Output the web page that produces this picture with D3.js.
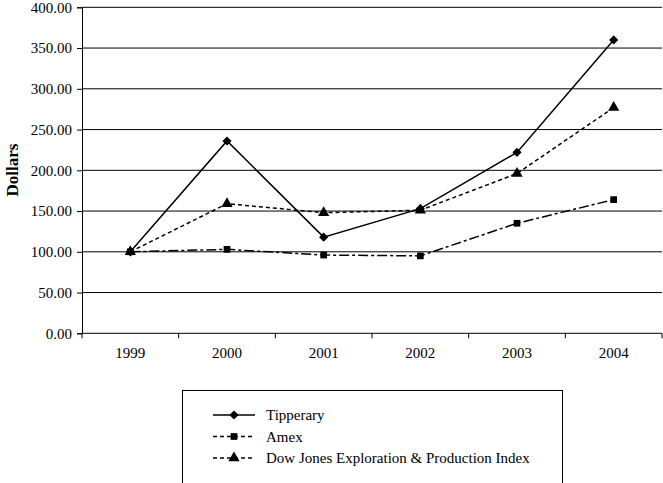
<!DOCTYPE html>
<html><head><meta charset="utf-8">
<script src="https://cdn.jsdelivr.net/npm/d3@7"></script>
<style>body{margin:0;background:#fff;}svg{display:block;}svg text{font-family:"Liberation Serif","Times New Roman",serif !important;fill:#000;}</style>
</head><body>
<svg id="c" width="663" height="483"></svg>
<script>
const years = ["1999","2000","2001","2002","2003","2004"];
const tipperary = [100, 236, 118, 153, 222, 360];
const amex = [100, 103, 96, 95, 135, 164];
const dowJones = [100, 159, 148, 151, 196, 277];
const yTicks = [0, 50, 100, 150, 200, 250, 300, 350, 400];
const seriesNames = ["Tipperary", "Amex", "Dow Jones Exploration & Production Index"];

const series = [
  {name: seriesNames[0], values: tipperary, dash: null, marker: d3.symbolSquare, size: 42, rot: 45},
  {name: seriesNames[1], values: amex, dash: "10,3,3,3", marker: d3.symbolSquare, size: 45, rot: 0},
  {name: seriesNames[2], values: dowJones, dash: "4,3", marker: d3.symbolTriangle, size: 55, rot: 0}
];

const svg = d3.select("#c");
const m = {l: 82, r: 662, t: 7.3, b: 333.3};
const x = d3.scaleBand().domain(years).range([m.l, m.r]);
const y = d3.scaleLinear().domain([0, 400]).range([m.b, m.t]);

// gridlines
svg.append("g").selectAll("line").data(yTicks.filter(d => d > 0)).join("line")
  .attr("x1", m.l).attr("x2", m.r).attr("y1", d => y(d)).attr("y2", d => y(d))
  .attr("stroke", "#000").attr("stroke-width", 1);

// y axis
const ya = svg.append("g").attr("transform", `translate(${m.l},0)`)
  .call(d3.axisLeft(y).tickValues(yTicks).tickFormat(d3.format(".2f")).tickSize(5).tickPadding(5));
ya.attr("font-family", null).attr("font-size", null);
ya.select(".domain").attr("stroke", "#000");
ya.selectAll("text").style("font-size", "15px");

// x axis
const xa = svg.append("g").attr("transform", `translate(0,${m.b})`);
xa.append("line").attr("x1", m.l).attr("x2", m.r).attr("stroke", "#000");
const edges = years.map(d => x(d)).concat([m.r]);
xa.selectAll("line.t").data(edges).join("line").attr("class", "t")
  .attr("x1", d => d).attr("x2", d => d).attr("y1", 0).attr("y2", 5).attr("stroke", "#000");
xa.selectAll("text").data(years).join("text")
  .attr("x", d => x(d) + x.bandwidth() / 2).attr("y", 25)
  .attr("text-anchor", "middle").style("font-size", "15px").text(d => d);

// y label
svg.append("text").attr("transform", "translate(18,170) rotate(-90)")
  .attr("text-anchor", "middle").style("font-size", "17px").style("font-weight", "bold").text("Dollars");

const cx = d => x(d) + x.bandwidth() / 2;
const line = d3.line().x((v, i) => cx(years[i])).y(v => y(v));

series.slice().reverse().forEach(s => {
  svg.append("path").attr("d", line(s.values)).attr("fill", "none")
    .attr("stroke", "#000").attr("stroke-width", 1.5)
    .attr("stroke-dasharray", s.dash);
  svg.append("g").selectAll("path").data(s.values).join("path")
    .attr("transform", (v, i) => `translate(${cx(years[i])},${y(v)}) rotate(${s.rot})`)
    .attr("d", d3.symbol().type(s.marker).size(s.size)).attr("fill", "#000");
});

// legend
const lg = svg.append("g");
lg.append("rect").attr("x", 182.5).attr("y", 390.5).attr("width", 380).attr("height", 100)
  .attr("fill", "none").attr("stroke", "#000").attr("stroke-width", 1);
const ly = [415, 436.5, 458];
series.forEach((s, i) => {
  lg.append("line").attr("x1", 213).attr("x2", 255).attr("y1", ly[i]).attr("y2", ly[i])
    .attr("stroke", "#000").attr("stroke-width", 1.5)
    .attr("stroke-dasharray", s.dash ? "4,3" : null);
  lg.append("path").attr("transform", `translate(234,${ly[i]}) rotate(${s.rot})`)
    .attr("d", d3.symbol().type(s.marker).size(s.size)).attr("fill", "#000");
  lg.append("text").attr("x", 266).attr("y", ly[i] + 5).style("font-size", "15px").text(s.name);
});
</script>
</body></html>
